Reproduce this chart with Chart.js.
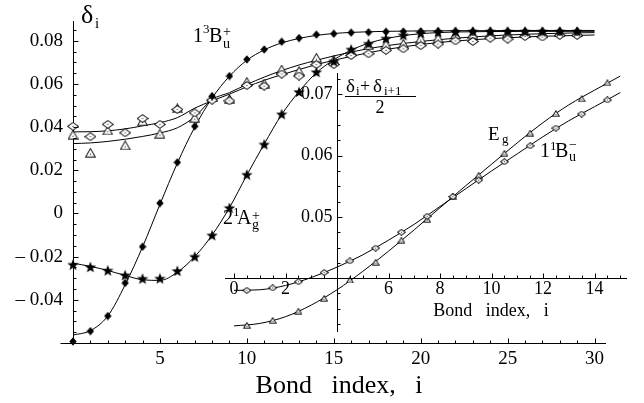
<!DOCTYPE html>
<html>
<head>
<meta charset="utf-8">
<script src="https://cdn.jsdelivr.net/npm/chart.js"></script>
<style>
  body { margin: 0; background: #fff; }
  #wrap { position: relative; width: 644px; height: 403px; }
  canvas { position: absolute; }
</style>
</head>
<body>
<div id="wrap">
  <canvas id="main" width="644" height="403" style="left:0;top:0"></canvas>
  <canvas id="inset" width="444" height="285" style="left:200px;top:60px"></canvas>
</div>
<script>
// bond index of the main plot
const bond = [0,1,2,3,4,5,6,7,8,9,10,11,12,13,14,15,16,17,18,19,20,21,22,23,24,25,26,27,28,29];
// 1^3B_u^+  (filled diamonds)
const b3u = [-0.0593,-0.0545,-0.0475,-0.0322,-0.0154,0.0048,0.0237,0.0404,0.0543,0.0637,0.0714,0.0760,0.0796,0.0813,0.0829,
             0.0833,0.0838,0.0840,0.0842,0.0843,0.0844,0.0845,0.0845,0.0845,0.0845,0.0845,0.0845,0.0845,0.0845,0.0845];
// 2^1A_g^+  (stars)
const a2g = [-0.0237,-0.0248,-0.0264,-0.0286,-0.0302,-0.0301,-0.0266,-0.0200,-0.0101,0.0026,0.0180,0.0320,0.0460,0.0563,0.0655,
             0.0705,0.0760,0.0787,0.0811,0.0826,0.0836,0.0840,0.0842,0.0843,0.0843,0.0843,0.0843,0.0843,0.0843,0.0843];
// E_g  (open triangles)
const egVals = [0.0365,0.0282,0.0385,0.0316,0.0428,0.0370,0.0487,0.0444,0.0538,0.0530,0.0610,0.0602,0.0667,0.0660,0.0722,
                0.0712,0.0752,0.0780,0.0783,0.0786,0.0810,0.0812,0.0830,0.0832,0.0835,0.0836,0.0838,0.0838,0.0840,0.0840];
// 1^1B_u^-  (open diamonds)
const b1uVals = [0.0404,0.0356,0.0413,0.0374,0.0440,0.0413,0.0482,0.0466,0.0525,0.0522,0.0593,0.0590,0.0646,0.0637,0.0690,
                 0.0690,0.0732,0.0740,0.0756,0.0763,0.0778,0.0785,0.0800,0.0797,0.0812,0.0808,0.0820,0.0818,0.0825,0.0825];

// fitted curves, read at integer bond index 0..30
const fitX = [0,1,2,3,4,5,6,7,8,9,10,11,12,13,14,15,16,17,18,19,20,21,22,23,24,25,26,27,28,29,30];
const fitB3u = [-0.0563,-0.0543,-0.0475,-0.0330,-0.0155,0.0042,0.0233,0.0400,0.0535,0.0636,0.0710,0.0758,0.0790,0.0811,0.0825,0.0834,
                0.0839,0.0842,0.0844,0.0845,0.0846,0.0846,0.0847,0.0847,0.0847,0.0848,0.0848,0.0848,0.0848,0.0848,0.0848];
const fitA2g = [-0.0230,-0.0245,-0.0264,-0.0287,-0.0307,-0.0310,-0.0272,-0.0200,-0.0100,0.0027,0.0178,0.0322,0.0458,0.0565,0.0652,0.0712,
                0.0757,0.0789,0.0810,0.0824,0.0833,0.0838,0.0841,0.0842,0.0843,0.0843,0.0844,0.0844,0.0844,0.0844,0.0844];
const fitEg = [0.0324,0.0327,0.0334,0.0344,0.0357,0.0373,0.0397,0.0448,0.0528,0.0560,0.0598,0.0632,0.0662,0.0688,0.0710,0.0730,
               0.0748,0.0764,0.0777,0.0788,0.0797,0.0805,0.0812,0.0818,0.0823,0.0827,0.0830,0.0833,0.0835,0.0837,0.0838];
const fitB1u = [0.0378,0.0379,0.0383,0.0392,0.0406,0.0421,0.0444,0.0488,0.0522,0.0553,0.0587,0.0617,0.0643,0.0667,0.0690,0.0710,
                0.0728,0.0745,0.0760,0.0772,0.0783,0.0792,0.0799,0.0805,0.0810,0.0814,0.0818,0.0821,0.0823,0.0825,0.0827];

// inset: (delta_i + delta_i+1)/2 at bond midpoints
const midIdx = [0.5,1.5,2.5,3.5,4.5,5.5,6.5,7.5,8.5,9.5,10.5,11.5,12.5,13.5,14.5];
const egAvg = [0.0323,0.0331,0.0346,0.0367,0.0397,0.0426,0.0462,0.0496,0.0534,0.0568,0.0604,0.0637,0.0669,0.0693,0.0719];
const b1uAvg = [0.0380,0.0384,0.0394,0.0409,0.0428,0.0449,0.0475,0.0501,0.0533,0.0560,0.0590,0.0616,0.0645,0.0668,0.0691];
const insetFitX = [0,1,2,3,4,5,6,7,8,9,10,11,12,13,14,15];
const insetFitEg = [0.0322,0.0326,0.0337,0.0356,0.0381,0.0411,0.0444,0.0479,0.0515,0.0551,0.0586,0.0621,0.0654,0.0683,0.0707,0.0730];
const insetFitB1u = [0.0380,0.0381,0.0388,0.0401,0.0418,0.0438,0.0462,0.0488,0.0517,0.0546,0.0575,0.0603,0.0631,0.0657,0.0680,0.0703];

// tick labels
const mainXTicks = [5,10,15,20,25,30];
const mainYTicks = [-0.04,-0.02,0,0.02,0.04,0.06,0.08];
const insetXTicks = [0,2,6,8,10,12,14];
const insetYTicks = [0.05,0.06,0.07];

const SERIF = '"Liberation Serif", "Times New Roman", serif';

// markers are drawn at 4x and shown at their real size, so they stay sharp
function marker(w, h, draw) {
  const S = 4;
  const c = document.createElement('canvas');
  c.width = w * S; c.height = h * S;
  const g = c.getContext('2d');
  g.scale(S, S);
  g.strokeStyle = '#000'; g.fillStyle = '#000'; g.lineWidth = 0.9;
  draw(g);
  const img = new Image();
  img.src = c.toDataURL();
  img.width = w; img.height = h;
  return img;
}
function poly(g, pts) {
  g.beginPath();
  pts.forEach((p, i) => i ? g.lineTo(p[0], p[1]) : g.moveTo(p[0], p[1]));
  g.closePath();
}
function fDia(w, h) {
  return marker(w, h, g => { poly(g, [[w/2,0.3],[w-0.3,h/2],[w/2,h-0.3],[0.3,h/2]]); g.fill(); });
}
function fStar(s) {
  return marker(s, s, g => {
    g.beginPath();
    for (let i = 0; i < 10; i++) {
      const r = i % 2 ? s * 0.21 : s * 0.5, a = -Math.PI / 2 + i * Math.PI / 5;
      g.lineTo(s / 2 + r * Math.cos(a), s * 0.54 + r * Math.sin(a));
    }
    g.closePath(); g.fill();
  });
}
function oTri(w, h, dot) {
  return marker(w, h, g => {
    poly(g, [[w/2,0.8],[w-0.7,h-0.8],[0.7,h-0.8]]);
    g.fillStyle = '#fff'; g.fill(); g.stroke();
    g.fillStyle = '#000'; g.beginPath(); g.arc(w/2, h*0.64, dot, 0, 2*Math.PI); g.fill();
  });
}
function oDia(w, h, dot) {
  return marker(w, h, g => {
    poly(g, [[w/2,0.6],[w-0.6,h/2],[w/2,h-0.6],[0.6,h/2]]);
    g.fillStyle = '#fff'; g.fill(); g.stroke();
    g.fillStyle = '#000'; g.beginPath(); g.arc(w/2, h/2, dot, 0, 2*Math.PI); g.fill();
  });
}

function xy(xs, ys) { return xs.map((x, i) => ({x: x, y: ys[i]})); }
function pts(xs, ys, img, order) {
  return { data: xy(xs, ys), pointStyle: img, pointRadius: 5, showLine: false, clip: false, order: order };
}
function curve(xs, ys) {
  return { data: xy(xs, ys), showLine: true, borderColor: '#000', borderWidth: 1, pointRadius: 0,
           cubicInterpolationMode: 'monotone', fill: false, order: 10 };
}
function put(ctx, t, x, y, size, align, base) {
  ctx.font = size + 'px ' + SERIF;
  ctx.textAlign = align || 'left';
  ctx.textBaseline = base || 'alphabetic';
  ctx.fillText(t, x, y);
}

const mainDeco = {
  id: 'mainDeco',
  afterDraw(chart) {
    const {ctx, scales: {x, y}} = chart;
    const x0 = Math.round(x.getPixelForValue(0)) + 0.5;
    const yb = Math.round(y.getPixelForValue(-0.06)) + 0.5;
    ctx.save();
    ctx.strokeStyle = '#000'; ctx.lineWidth = 1;
    ctx.beginPath();
    ctx.moveTo(x0 - 13, yb); ctx.lineTo(x0, yb);
    for (let v = 1; v <= 30; v++) {
      const px = Math.round(x.getPixelForValue(v)) + 0.5;
      ctx.moveTo(px, yb); ctx.lineTo(px, yb - (v % 5 === 0 ? 5 : 3));
    }
    for (let k = -11; k <= 17; k++) {
      const py = Math.round(y.getPixelForValue(k * 0.005)) + 0.5;
      ctx.moveTo(x0, py); ctx.lineTo(x0 + (k % 4 === 0 ? 5 : 3), py);
    }
    ctx.stroke();
    ctx.fillStyle = '#000';
    put(ctx, 'δ', 81, 23, 26);
    put(ctx, 'i', 95, 28, 15);
    put(ctx, '1', 193, 42, 20); put(ctx, '3', 203, 33, 13); put(ctx, 'B', 209, 42, 20);
    put(ctx, 'u', 223, 48, 14); put(ctx, '+', 223, 36, 14);
    put(ctx, '2', 223, 224, 20); put(ctx, '1', 233, 216, 13); put(ctx, 'A', 237, 224, 20);
    put(ctx, 'g', 252, 229, 14); put(ctx, '+', 252, 220, 14);
    ctx.restore();
  }
};

const insetDeco = {
  id: 'insetDeco',
  afterDraw(chart) {
    const {ctx, chartArea: a, scales: {x, y}} = chart;
    const x0 = Math.round(x.getPixelForValue(4)) + 0.5;
    const y0 = Math.round(y.getPixelForValue(0.04)) + 0.5;
    ctx.save();
    ctx.strokeStyle = '#000'; ctx.lineWidth = 1;
    ctx.beginPath();
    ctx.moveTo(a.left, y0); ctx.lineTo(a.right, y0);
    ctx.moveTo(x0, a.top); ctx.lineTo(x0, a.bottom);
    for (let k = 0; k <= 30; k++) {
      if (k === 8) continue;
      const px = Math.round(x.getPixelForValue(k * 0.5)) + 0.5;
      ctx.moveTo(px, y0); ctx.lineTo(px, y0 - (k % 4 === 0 ? 5 : 3));
    }
    for (let k = 13; k <= 29; k++) {
      if (k === 16) continue;
      const py = Math.round(y.getPixelForValue(k * 0.0025)) + 0.5;
      ctx.moveTo(x0, py); ctx.lineTo(x0 + (k % 4 === 0 ? 5 : 3), py);
    }
    ctx.stroke();
    ctx.fillStyle = '#000';
    insetXTicks.forEach(v => put(ctx, String(v), x.getPixelForValue(v), y0 + 11, 18, 'center', 'middle'));
    insetYTicks.forEach(v => put(ctx, v.toFixed(2), x0 - 5, y.getPixelForValue(v), 18, 'right', 'middle'));
    put(ctx, 'Bond\u2002 index,\u2002 i', 291, 256, 18, 'center');
    // (delta_i + delta_i+1) / 2
    put(ctx, 'δ', 146, 32, 19); put(ctx, 'i', 156, 35, 13); put(ctx, '+', 160, 32, 18);
    put(ctx, 'δ', 173, 32, 19); put(ctx, 'i+1', 184, 35, 13);
    ctx.beginPath(); ctx.moveTo(145, 36.5); ctx.lineTo(216, 36.5); ctx.stroke();
    put(ctx, '2', 180, 53, 18, 'center');
    // E_g and 1^1B_u^-
    put(ctx, 'E', 288, 80, 19); put(ctx, 'g', 302, 83, 13);
    put(ctx, '1', 340, 97, 20); put(ctx, '1', 350, 90, 13); put(ctx, 'B', 355, 97, 20);
    put(ctx, 'u', 369, 101, 14); put(ctx, '\u2212', 369, 89, 14);
    ctx.restore();
  }
};

const mk = {
  fDia: fDia(8, 9), star: fStar(12), oDia: oDia(12, 9, 0.55), oTri: oTri(11, 10, 0.55),
  oDiaS: oDia(9, 7, 0.5), oTriS: oTri(8, 7, 0.5)
};

function build() {
  new Chart(document.getElementById('main'), {
    type: 'scatter',
    data: {
      datasets: [
        pts(bond, b3u, mk.fDia, 0),
        pts(bond, a2g, mk.star, 1),
        pts(bond, b1uVals, mk.oDia, 2),
        pts(bond, egVals, mk.oTri, 3),
        curve(fitX, fitB3u), curve(fitX, fitA2g), curve(fitX, fitEg), curve(fitX, fitB1u)
      ]
    },
    options: {
      responsive: false, animation: false, events: [],
      layout: { padding: { left: 0, right: 39, top: 5, bottom: 0 } },
      plugins: { legend: { display: false }, tooltip: { enabled: false } },
      scales: {
        x: {
          type: 'linear', min: 0, max: 30.6,
          grid: { display: true, drawOnChartArea: false, drawTicks: false },
          border: { display: true, color: '#000', width: 1 },
          afterBuildTicks: s => { s.ticks = [0].concat(mainXTicks).map(v => ({value: v})); },
          ticks: { padding: 5, color: '#000', maxRotation: 0, autoSkip: false,
                   font: { family: SERIF, size: 19 },
                   callback: v => (v === 0 ? '' : String(v)) },
          title: { display: true, text: 'Bond\u2002 index,\u2002 i', color: '#000',
                   font: { family: SERIF, size: 26 }, padding: { top: 0, bottom: 1 } },
          afterFit: s => { s.height = 60; }
        },
        y: {
          type: 'linear', min: -0.06, max: 0.089,
          grid: { display: true, drawOnChartArea: false, drawTicks: false },
          border: { display: true, color: '#000', width: 1 },
          afterBuildTicks: s => { s.ticks = mainYTicks.map(v => ({value: v})); },
          ticks: { padding: 10, color: '#000', autoSkip: false,
                   font: { family: SERIF, size: 19 },
                   callback: v => {
                     const r = Math.round(v * 100) / 100;
                     if (r === 0) return '0';
                     return r < 0 ? '\u2013 ' + (-r).toFixed(2) : r.toFixed(2);
                   } },
          afterFit: s => { s.width = 73; }
        }
      }
    },
    plugins: [mainDeco]
  });

  new Chart(document.getElementById('inset'), {
    type: 'scatter',
    data: {
      datasets: [
        pts(midIdx, b1uAvg, mk.oDiaS, 0),
        pts(midIdx, egAvg, mk.oTriS, 1),
        curve(insetFitX, insetFitEg), curve(insetFitX, insetFitB1u)
      ]
    },
    options: {
      responsive: false, animation: false, events: [],
      layout: { padding: { left: 25, right: 17, top: 13, bottom: 13 } },
      plugins: { legend: { display: false }, tooltip: { enabled: false } },
      scales: {
        x: { type: 'linear', min: -0.35, max: 15.26, display: false },
        y: { type: 'linear', min: 0.0312, max: 0.0735, display: false }
      }
    },
    plugins: [insetDeco]
  });
}

Promise.all(Object.values(mk).map(im => im.decode().catch(() => null))).then(build);
</script>
</body>
</html>
